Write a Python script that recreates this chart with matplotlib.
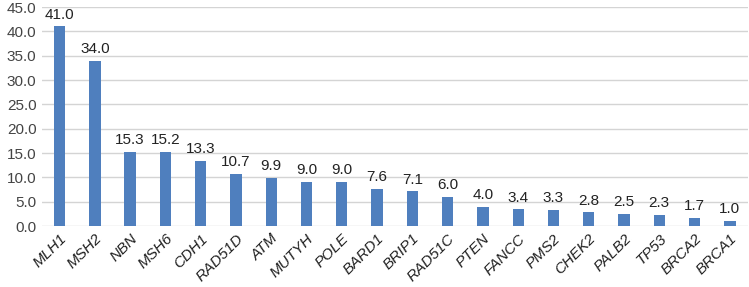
import numpy as np
import matplotlib.pyplot as plt

plt.rcParams['font.family'] = ['Liberation Sans', 'DejaVu Sans']

genes = ['MLH1', 'MSH2', 'NBN', 'MSH6', 'CDH1', 'RAD51D', 'ATM', 'MUTYH', 'POLE', 'BARD1',
         'BRIP1', 'RAD51C', 'PTEN', 'FANCC', 'PMS2', 'CHEK2', 'PALB2', 'TP53', 'BRCA2', 'BRCA1']
values = [41.0, 34.0, 15.3, 15.2, 13.3, 10.7, 9.9, 9.0, 9.0, 7.6,
          7.1, 6.0, 4.0, 3.4, 3.3, 2.8, 2.5, 2.3, 1.7, 1.0]

fig = plt.figure(figsize=(7.49, 2.87), dpi=100)
ax = fig.add_axes([0.056, 0.2125, 0.942, 0.763])

x = np.arange(len(genes))
ax.bar(x, values, width=0.32, color='#4F7FBE', zorder=3)
for xi, v in zip(x, values):
    ax.text(xi, v + 1.0, f'{v:.1f}', ha='center', va='bottom', fontsize=11, color='#222222')

ax.set_xlim(-0.5, len(genes) - 0.5)
ax.set_ylim(0, 45)
ax.set_yticks(np.arange(0, 46, 5))
ax.set_yticklabels([f'{t:.1f}' for t in np.arange(0, 46, 5)], fontsize=11, color='#444444')
ax.set_xticks(x)
ax.set_xticklabels(genes, rotation=45, ha='right', rotation_mode='anchor',
                   fontsize=11, style='italic', color='#222222')
ax.grid(axis='y', color='#D4D4D4', linewidth=1, zorder=0)
ax.tick_params(length=0, pad=4)
for s in ax.spines.values():
    s.set_visible(False)

fig.savefig('out.png', dpi=100)
